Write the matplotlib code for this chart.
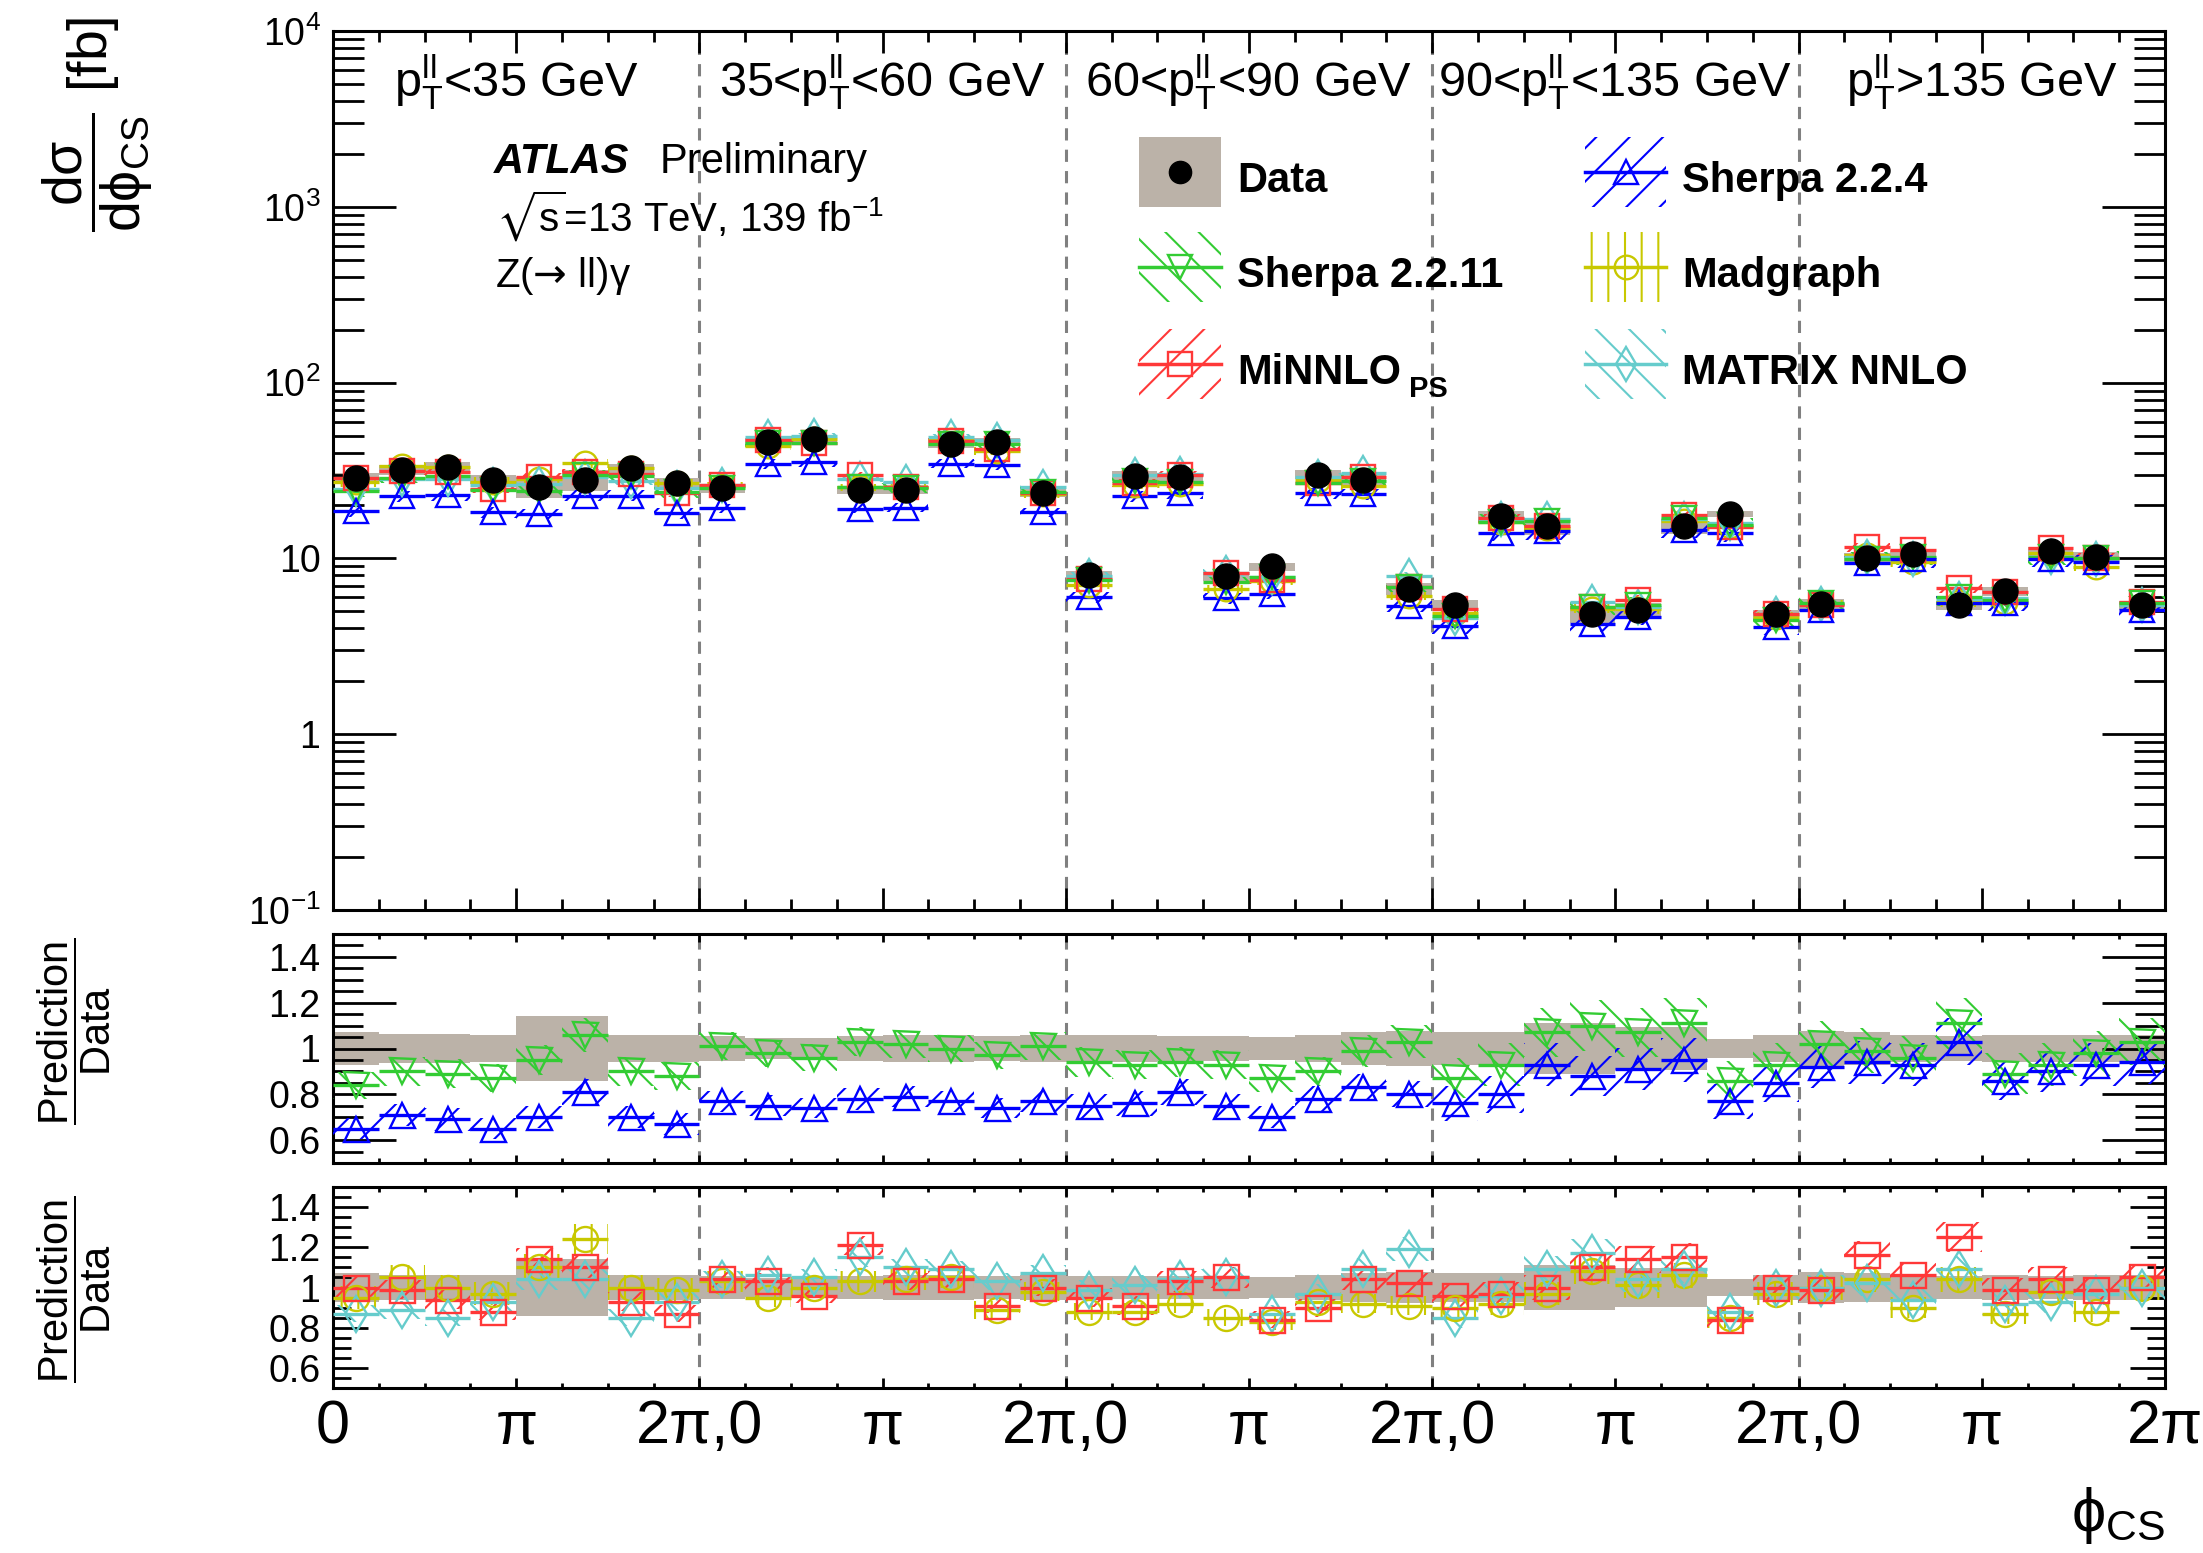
import numpy as np
import matplotlib
matplotlib.use("Agg")
import matplotlib.pyplot as plt
from matplotlib.patches import Rectangle
from matplotlib.ticker import FixedLocator, FixedFormatter, NullFormatter
from matplotlib.transforms import blended_transform_factory

plt.rcParams['font.family'] = ['Liberation Sans', 'DejaVu Sans']
plt.rcParams['mathtext.fontset'] = 'custom'
plt.rcParams['mathtext.rm'] = 'Liberation Sans'
plt.rcParams['mathtext.it'] = 'Liberation Sans:italic'
plt.rcParams['mathtext.bf'] = 'Liberation Sans:bold'
plt.rcParams['mathtext.sf'] = 'DejaVu Sans'
plt.rcParams['mathtext.fallback'] = 'stixsans'
plt.rcParams['hatch.linewidth'] = 1.5

# ---------------- data ----------------
region_labels = [r'$\mathrm{p}_{\mathrm{T}}^{\mathrm{ll}}$<35 GeV',
                 r'35<$\mathrm{p}_{\mathrm{T}}^{\mathrm{ll}}$<60 GeV',
                 r'60<$\mathrm{p}_{\mathrm{T}}^{\mathrm{ll}}$<90 GeV',
                 r'90<$\mathrm{p}_{\mathrm{T}}^{\mathrm{ll}}$<135 GeV',
                 r'$\mathrm{p}_{\mathrm{T}}^{\mathrm{ll}}$>135 GeV']
n_regions = 5
n_bins = 8

xtick_labels = ['0', 'π', '2π,0', 'π', '2π,0', 'π', '2π,0', 'π', '2π,0', 'π', '2π']

data = [28.6, 31.9, 33.1, 28.1, 25.6, 28.1, 32.5, 27.0,
        25.0, 46.0, 47.5, 24.6, 24.6, 45.0, 46.0, 23.7,
        8.0, 29.6, 28.9, 7.9, 9.0, 30.0, 28.0, 6.7,
        5.4, 17.4, 15.3, 4.8, 5.1, 15.3, 18.0, 4.8,
        5.5, 10.0, 10.6, 5.4, 6.5, 11.0, 10.2, 5.4]

data_relerr = [0.072, 0.062, 0.062, 0.060, 0.140, 0.140, 0.060, 0.060,
               0.055, 0.047, 0.047, 0.055, 0.060, 0.060, 0.055, 0.060,
               0.058, 0.058, 0.055, 0.055, 0.052, 0.060, 0.070, 0.075,
               0.070, 0.070, 0.110, 0.110, 0.095, 0.095, 0.040, 0.060,
               0.075, 0.070, 0.060, 0.055, 0.060, 0.058, 0.060, 0.060]

ratio_sherpa2211 = [0.84, 0.90, 0.89, 0.87, 0.95, 1.06, 0.90, 0.88,
                    1.01, 0.98, 0.96, 1.03, 1.02, 1.00, 0.97, 1.01,
                    0.94, 0.93, 0.94, 0.93, 0.87, 0.90, 0.99, 1.03,
                    0.87, 0.93, 1.07, 1.10, 1.07, 1.11, 0.86, 0.93,
                    1.02, 0.99, 0.96, 1.11, 0.89, 0.93, 0.98, 1.03]

ratio_sherpa224 = [0.65, 0.71, 0.69, 0.65, 0.70, 0.81, 0.70, 0.67,
                   0.77, 0.75, 0.74, 0.78, 0.79, 0.77, 0.74, 0.77,
                   0.75, 0.76, 0.81, 0.75, 0.70, 0.78, 0.83, 0.80,
                   0.76, 0.80, 0.93, 0.88, 0.91, 0.95, 0.77, 0.85,
                   0.92, 0.94, 0.93, 1.03, 0.86, 0.90, 0.93, 0.94]

ratio_minnlo = [1.00, 0.99, 0.94, 0.88, 1.14, 1.10, 0.93, 0.87,
                1.04, 1.03, 0.96, 1.21, 1.03, 1.04, 0.91, 1.00,
                0.95, 0.91, 1.03, 1.05, 0.84, 0.90, 1.04, 1.02,
                0.96, 0.97, 1.00, 1.10, 1.14, 1.15, 0.84, 1.00,
                0.99, 1.16, 1.06, 1.25, 0.99, 1.04, 0.99, 1.05]

ratio_madgraph = [0.95, 1.05, 1.00, 0.97, 1.10, 1.24, 1.00, 0.99,
                  1.03, 0.95, 1.00, 1.03, 1.04, 1.05, 0.89, 0.98,
                  0.88, 0.88, 0.92, 0.85, 0.83, 0.93, 0.92, 0.91,
                  0.90, 0.92, 0.97, 1.08, 1.01, 1.06, 0.85, 0.97,
                  1.00, 1.04, 0.90, 1.04, 0.87, 0.98, 0.88, 1.00]

ratio_matrix = [0.87, 0.89, 0.85, 0.93, 1.04, 1.04, 0.85, 0.93,
                1.04, 1.06, 1.05, 1.15, 1.10, 1.09, 1.03, 1.07,
                0.99, 1.01, 1.04, 1.05, 0.87, 0.97, 1.09, 1.19,
                0.85, 0.96, 1.09, 1.17, 1.04, 1.09, 0.88, 1.00,
                1.00, 1.02, 0.94, 1.09, 0.92, 0.93, 0.97, 1.00]

# relative uncertainty of each prediction, per pT region
unc_sherpa2211 = [0.07, 0.06, 0.07, 0.10, 0.10]
unc_sherpa224 = [0.07, 0.06, 0.07, 0.10, 0.10]
unc_minnlo = [0.05, 0.04, 0.05, 0.06, 0.06]
unc_madgraph = [0.06, 0.05, 0.05, 0.06, 0.06]
unc_matrix = [0.05, 0.04, 0.05, 0.06, 0.06]

# ---------------- style ----------------
band_color = '#bbb2a8'
c_blue = '#0000ff'
c_green = '#33cc33'
c_red = '#ff3838'
c_yellow = '#c8c800'
c_cyan = '#66cccc'

models = {
    'Sherpa 2.2.4': dict(r=ratio_sherpa224, u=unc_sherpa224, c=c_blue, m='^', h='/'),
    'Sherpa 2.2.11': dict(r=ratio_sherpa2211, u=unc_sherpa2211, c=c_green, m='v', h='\\'),
    'MiNNLO': dict(r=ratio_minnlo, u=unc_minnlo, c=c_red, m='s', h='/'),
    'Madgraph': dict(r=ratio_madgraph, u=unc_madgraph, c=c_yellow, m='o', h='|'),
    'MATRIX NNLO': dict(r=ratio_matrix, u=unc_matrix, c=c_cyan, m='d', h='\\'),
}

W, H = 2203, 1553
fig = plt.figure(figsize=(W / 100, H / 100), dpi=100)
PT = 100 / 72.0  # px per point


def axrect(l, t, r, b):
    return [l / W, 1 - b / H, (r - l) / W, (b - t) / H]


ax0 = fig.add_axes(axrect(333, 31, 2165, 910))
ax1 = fig.add_axes(axrect(333, 934, 2165, 1163))
ax2 = fig.add_axes(axrect(333, 1187, 2165, 1388))

edges = np.arange(n_regions * n_bins + 1) * (np.pi / 4)
centers = 0.5 * (edges[:-1] + edges[1:])
bw = np.pi / 4
d = np.array(data)
de = np.array(data_relerr)


def draw_pred(ax, y, rel, spec, ms=17, z=3):
    c = spec['c']
    ax.bar(centers, 2 * y * rel, bottom=y * (1 - rel), width=bw, facecolor='none',
           edgecolor=c, hatch=spec['h'], linewidth=0, zorder=z)
    ax.errorbar(centers, y, xerr=bw / 2, fmt=spec['m'], color=c, mfc='none', mec=c,
                ms=ms, mew=1.7, elinewidth=2.4, capsize=0, zorder=z + 0.5)


# ---------- main panel ----------
ax0.set_yscale('log')
ax0.bar(centers, 2 * d * de, bottom=d * (1 - de), width=bw, color=band_color,
        linewidth=0, zorder=1)
for name in ['Madgraph', 'MATRIX NNLO', 'MiNNLO', 'Sherpa 2.2.11', 'Sherpa 2.2.4']:
    spec = models[name]
    rel = np.repeat(spec['u'], n_bins)
    draw_pred(ax0, d * np.array(spec['r']), rel, spec)
ax0.plot(centers, d, 'o', color='black', ms=18, zorder=10)
ax0.set_ylim(0.1, 1e4)

# ---------- ratio panels ----------
for ax, names in ((ax1, ['Sherpa 2.2.11', 'Sherpa 2.2.4']),
                  (ax2, ['Madgraph', 'MATRIX NNLO', 'MiNNLO'])):
    ax.bar(centers, 2 * de, bottom=1 - de, width=bw, color=band_color, linewidth=0, zorder=1)
    for name in names:
        spec = models[name]
        rel = np.repeat(spec['u'], n_bins)
        draw_pred(ax, np.array(spec['r']), rel, spec, ms=18)
    ax.set_ylim(0.5, 1.5)
    ax.yaxis.set_major_locator(FixedLocator([0.6, 0.8, 1.0, 1.2, 1.4]))
    ax.yaxis.set_major_formatter(FixedFormatter(['0.6', '0.8', '1', '1.2', '1.4']))
    ax.yaxis.set_minor_locator(FixedLocator(np.arange(0.5, 1.501, 0.05)))

# ---------- common axes style ----------
for ax in (ax0, ax1, ax2):
    ax.set_xlim(0, 2 * np.pi * n_regions)
    ax.xaxis.set_major_locator(FixedLocator(np.arange(2 * n_regions + 1) * np.pi))
    ax.xaxis.set_minor_locator(FixedLocator(np.arange(n_regions * n_bins + 1) * np.pi / 4))
    ax.tick_params(which='both', direction='in', top=True, right=True, width=2.0,
                   labelsize=27, pad=9)
    for s in ax.spines.values():
        s.set_linewidth(2.2)
    for k in range(1, n_regions):
        ax.axvline(2 * np.pi * k, color='#808080', lw=2.2, ls=(0, (4, 3)), zorder=0.5)

ax0.tick_params(axis='y', which='major', length=63 / PT)
ax0.tick_params(axis='y', which='minor', length=31 / PT)
ax0.tick_params(axis='x', which='major', length=22 / PT)
ax0.tick_params(axis='x', which='minor', length=11 / PT)
ax0.yaxis.set_major_locator(FixedLocator([0.1, 1, 10, 100, 1000, 10000]))
ax0.yaxis.set_major_formatter(FixedFormatter([r'$10^{-1}$', '1', '10', r'$10^{2}$',
                                              r'$10^{3}$', r'$10^{4}$']))
ax0.yaxis.set_minor_locator(FixedLocator([m * 10.0 ** e for e in range(-1, 4) for m in range(2, 10)]))
ax0.yaxis.set_minor_formatter(NullFormatter())
ax0.xaxis.set_major_formatter(NullFormatter())

ax1.tick_params(axis='y', which='major', length=63 / PT)
ax1.tick_params(axis='y', which='minor', length=30 / PT)
ax1.tick_params(axis='x', which='major', length=8 / PT)
ax1.tick_params(axis='x', which='minor', length=5 / PT)
ax1.xaxis.set_major_formatter(NullFormatter())

ax2.tick_params(axis='y', which='major', length=35 / PT)
ax2.tick_params(axis='y', which='minor', length=18 / PT)
ax2.tick_params(axis='x', which='major', length=10 / PT, labelsize=44, pad=8)
ax2.tick_params(axis='x', which='minor', length=5 / PT)
ax2.xaxis.set_major_formatter(FixedFormatter(xtick_labels))

# ---------- texts ----------
tr = blended_transform_factory(ax0.transData, ax0.transAxes)
for i, lab in enumerate(region_labels):
    ax0.text(2 * np.pi * i + np.pi, (910 - 97) / 879, lab, transform=tr, ha='center',
             va='baseline', fontsize=35, zorder=20)


def axf(px, py):
    return ((px - 333) / 1832, (910 - py) / 879)


x, y = axf(494, 173)
ax0.text(x, y, 'ATLAS', transform=ax0.transAxes, fontsize=30, fontweight='bold',
         fontstyle='italic', va='baseline', ha='left')
x, y = axf(660, 173)
ax0.text(x, y, 'Preliminary', transform=ax0.transAxes, fontsize=30, va='baseline', ha='left')
x, y = axf(496, 232)
ax0.text(x, y, r'$\sqrt{\mathrm{s}}$=13 TeV, 139 fb$^{-1}$', transform=ax0.transAxes,
         fontsize=29, va='baseline', ha='left')
x, y = axf(495, 287)
ax0.text(x, y, r'Z($\mathsf{→}$ ll)γ', transform=ax0.transAxes, fontsize=29,
         va='baseline', ha='left')

# ---------- legend (drawn by hand) ----------
leg_rows = [172, 267, 364]
leg_cols = [(1139, 1221, 1237), (1585, 1666, 1682)]
leg_entries = [(0, 0, 'Data'), (1, 0, 'Sherpa 2.2.4'),
               (0, 1, 'Sherpa 2.2.11'), (1, 1, 'Madgraph'),
               (0, 2, 'MiNNLO'), (1, 2, 'MATRIX NNLO')]
for col, row, name in leg_entries:
    x0p, x1p, xt = leg_cols[col]
    yc = leg_rows[row]
    ax_x0, ax_y0 = axf(x0p, yc + 35)
    ax_x1, ax_y1 = axf(x1p, yc - 35)
    xc = 0.5 * (ax_x0 + ax_x1)
    _, ayc = axf(0, yc)
    if name == 'Data':
        ax0.add_patch(Rectangle((ax_x0, ax_y0), ax_x1 - ax_x0, ax_y1 - ax_y0,
                                transform=ax0.transAxes, facecolor=band_color, lw=0))
        ax0.plot([xc], [ayc], 'o', color='black', ms=16, transform=ax0.transAxes)
    else:
        spec = models[name]
        c = spec['c']
        ax0.add_patch(Rectangle((ax_x0, ax_y0), ax_x1 - ax_x0, ax_y1 - ax_y0,
                                transform=ax0.transAxes, facecolor='none', edgecolor=c,
                                hatch=spec['h'], lw=0))
        ax0.plot([ax_x0, ax_x1], [ayc, ayc], color=c, lw=2.5, transform=ax0.transAxes)
        ax0.plot([xc], [ayc], spec['m'], color=c, mfc='none', mec=c, ms=17, mew=1.7,
                 transform=ax0.transAxes)
    tx, ty = axf(xt, yc + 20)
    if name == 'MiNNLO':
        ax0.text(tx, ty, 'MiNNLO', transform=ax0.transAxes, fontsize=30,
                 fontweight='bold', va='baseline', ha='left')
        px2, py2 = axf(1409, yc + 33)
        ax0.text(px2, py2, 'PS', transform=ax0.transAxes, fontsize=21, fontweight='bold',
                 va='baseline', ha='left')
    else:
        ax0.text(tx, ty, name, transform=ax0.transAxes, fontsize=30, fontweight='bold',
                 va='baseline', ha='left')

# axis titles
fig.text(98 / W, 1 - 124 / H,
         r'$\dfrac{\mathrm{dσ}}{\mathrm{dϕ}_{\mathrm{CS}}}$ [fb]',
         rotation=90, ha='center', va='center', fontsize=40)
for yc in (1031, 1289):
    fig.text(74 / W, 1 - yc / H, r'$\dfrac{\mathrm{Prediction}}{\mathrm{Data}}$',
             rotation=90, ha='center', va='center', fontsize=30)
fig.text(2165 / W, 1 - 1515 / H, r'$\mathrm{ϕ}_{\mathrm{CS}}$', ha='right', va='center',
         fontsize=44)

fig.savefig('out.png', dpi=100)
